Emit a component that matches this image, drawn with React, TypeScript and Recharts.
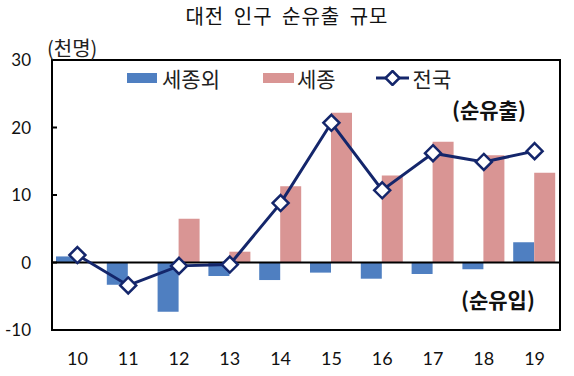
import { Bar, ComposedChart, Line, ReferenceArea, ReferenceLine, XAxis, YAxis } from "recharts";

const years = ["10", "11", "12", "13", "14", "15", "16", "17", "18", "19"];
const otherThanSejong = [0.9, -3.3, -7.3, -2.0, -2.6, -1.5, -2.4, -1.7, -1.0, 3.0];
const sejong = [0, 0, 6.5, 1.6, 11.3, 22.2, 12.9, 17.9, 15.9, 13.3];
const nationwide = [1.1, -3.4, -0.5, -0.3, 8.8, 20.7, 10.7, 16.2, 14.9, 16.5];
const yTicks = [-10, 0, 10, 20, 30];

const BLUE = "#4f7fc1";
const PINK = "#d99594";
const NAVY = "#14266b";
const KR = "'Noto Sans CJK KR', sans-serif";
const NUM = "Lato, 'Noto Sans', sans-serif";

const data = years.map((y, i) => ({
  year: y,
  other: otherThanSejong[i],
  sejong: sejong[i],
  total: nationwide[i],
}));

function Diamond(props: any) {
  const { cx, cy } = props;
  if (cx == null || cy == null) return null;
  const r = 8;
  return (
    <polygon
      points={`${cx},${cy - r} ${cx + r},${cy} ${cx},${cy + r} ${cx - r},${cy}`}
      fill="#fff"
      stroke={NAVY}
      strokeWidth={2.5}
    />
  );
}

function YTick(props: any) {
  const { y, payload } = props;
  return (
    <g>
      <line x1={52} x2={57} y1={y} y2={y} stroke="#000" strokeWidth={2} />
      <text x={31} y={y + 6} textAnchor="end" fontSize={17} fontFamily={NUM} fill="#111">
        {payload.value}
      </text>
    </g>
  );
}

function LegendBox() {
  const item = { display: "flex", alignItems: "center" } as const;
  return (
    <div
      style={{
        position: "absolute",
        top: 66,
        left: 127,
        display: "flex",
        fontFamily: KR,
        fontSize: 21,
        lineHeight: "24px",
        color: "#222",
      }}
    >
      <div style={{ ...item, marginRight: 43 }}>
        <span style={{ width: 30, height: 10, background: BLUE, marginRight: 5 }} />
        세종외
      </div>
      <div style={{ ...item, marginRight: 40 }}>
        <span style={{ width: 31, height: 10, background: PINK, marginRight: 3 }} />
        세종
      </div>
      <div style={item}>
        <svg width={33} height={16} style={{ marginRight: 4 }}>
          <line x1={0} x2={33} y1={8} y2={8} stroke={NAVY} strokeWidth={3} />
          <polygon points="16.5,1 23.5,8 16.5,15 9.5,8" fill="#fff" stroke={NAVY} strokeWidth={2.5} />
        </svg>
        전국
      </div>
    </div>
  );
}

export default function App() {
  return (
    <div style={{ position: "relative", width: 574, height: 376, background: "#fff" }}>
      <style>{`body{margin:0}`}</style>
      <ComposedChart
        width={574}
        height={376}
        data={data}
        margin={{ top: 60, right: 14, bottom: 6, left: 0 }}
        barCategoryGap={4}
        barGap={0}
      >
        <XAxis
          dataKey="year"
          axisLine={false}
          tickLine={false}
          height={40}
          tickMargin={16}
          tick={{ fontSize: 18, fontFamily: NUM, fill: "#111" }}
        />
        <YAxis
          domain={[-10, 30]}
          ticks={yTicks}
          width={52}
          axisLine={false}
          tickLine={false}
          tick={<YTick />}
          interval={0}
        />
        <ReferenceArea y1={-10} y2={30} fill="none" stroke="#000" strokeWidth={2} ifOverflow="visible" />
        <Bar dataKey="other" name="세종외" fill={BLUE} barSize={21} isAnimationActive={false} />
        <Bar dataKey="sejong" name="세종" fill={PINK} barSize={21} isAnimationActive={false} />
        <ReferenceLine y={0} stroke="#000" strokeWidth={2} />
        <Line
          dataKey="total"
          name="전국"
          stroke={NAVY}
          strokeWidth={3}
          dot={<Diamond />}
          activeDot={false}
          isAnimationActive={false}
        />
      </ComposedChart>
      <div
        style={{
          position: "absolute",
          top: 3,
          width: 574,
          textAlign: "center",
          fontFamily: KR,
          fontSize: 20,
          lineHeight: "26px",
          letterSpacing: 1,
          wordSpacing: 4,
          color: "#111",
        }}
      >
        대전 인구 순유출 규모
      </div>
      <div style={{ position: "absolute", top: 36, left: 47, fontFamily: KR, fontSize: 20, lineHeight: "24px", color: "#222" }}>
        (천명)
      </div>
      <LegendBox />
      <div style={{ position: "absolute", top: 96, left: 452, fontFamily: KR, fontSize: 21, lineHeight: "26px", fontWeight: 700, color: "#111" }}>
        (순유출)
      </div>
      <div style={{ position: "absolute", top: 286, left: 461, fontFamily: KR, fontSize: 21, lineHeight: "26px", fontWeight: 700, color: "#111" }}>
        (순유입)
      </div>
    </div>
  );
}
